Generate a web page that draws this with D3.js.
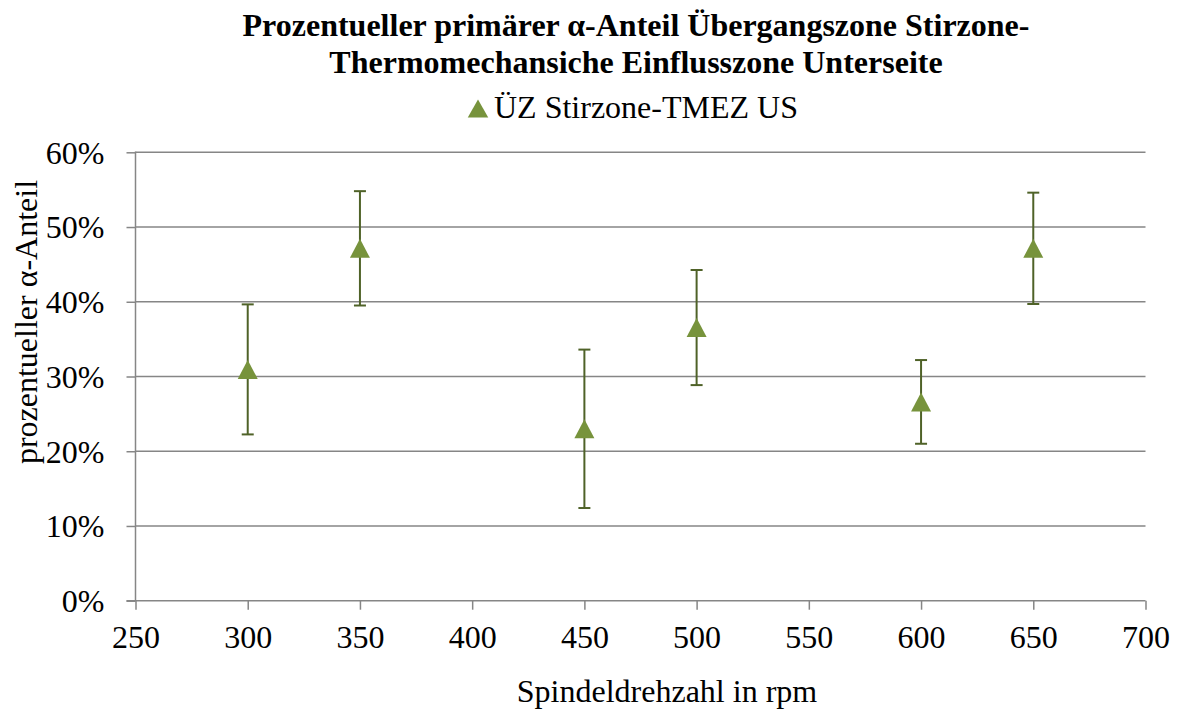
<!DOCTYPE html>
<html>
<head>
<meta charset="utf-8">
<script src="https://cdn.jsdelivr.net/npm/d3@7"></script>
<style>
  html, body { margin: 0; padding: 0; background: #fff; }
  svg { display: block; }
</style>
</head>
<body>
<svg id="chart" width="1177" height="718"></svg>
<script>
// Spindle speed (rpm)
const speeds = [300, 350, 450, 500, 600, 650];
// Primary alpha fraction (%)
const alphaShare = [30.95, 47.15, 23.0, 36.55, 26.6, 47.15];
// Standard deviation (%), shown as symmetric error bars
const alphaError = [8.7, 7.65, 10.6, 7.7, 5.6, 7.45];

const xTicks = [250, 300, 350, 400, 450, 500, 550, 600, 650, 700];
const yTicks = [0, 10, 20, 30, 40, 50, 60];

const seriesName = "ÜZ Stirzone-TMEZ US";
const titleLines = [
  "Prozentueller primärer α-Anteil Übergangszone Stirzone-",
  "Thermomechansiche Einflusszone Unterseite"
];
const xLabel = "Spindeldrehzahl in rpm";
const yLabel = "prozentueller α-Anteil";

const FONT = "'Liberation Serif', 'Times New Roman', serif";

const svg = d3.select("#chart");
const plot = { left: 135.5, right: 1145.5, top: 152.3, bottom: 600.7 };

const x = d3.scaleLinear().domain([250, 700]).range([plot.left, plot.right]);
const y = d3.scaleLinear().domain([0, 60]).range([plot.bottom, plot.top]);

const gridColor = "#868686";
const markerColor = "#77933C";
const errColor = "#4F6228";

const styleText = sel => sel
  .style("font-family", FONT)
  .style("font-size", "32px")
  .attr("fill", "#000");

// Horizontal gridlines
svg.append("g")
  .selectAll("line")
  .data(yTicks.filter(d => d > 0))
  .join("line")
  .attr("x1", plot.left).attr("x2", plot.right)
  .attr("y1", d => y(d)).attr("y2", d => y(d))
  .attr("stroke", gridColor).attr("stroke-width", 1.5);

// Y axis
const yAxis = d3.axisLeft(y).tickValues(yTicks).tickSize(9).tickFormat(d => d + "%");
const gy = svg.append("g").attr("transform", `translate(${plot.left},0)`).call(yAxis);
gy.select(".domain").attr("stroke", gridColor).attr("stroke-width", 1.5).attr("d", `M0,${plot.top - 0.7}V${plot.bottom}`);
gy.selectAll(".tick line").attr("stroke", gridColor).attr("stroke-width", 1.5);
gy.selectAll(".tick text")
  .attr("x", -31)
  .attr("dy", "0.34em")
  .call(styleText);

// X axis
const xAxis = d3.axisBottom(x).tickValues(xTicks).tickSize(9).tickFormat(d3.format("d"));
const gx = svg.append("g").attr("transform", `translate(0,${plot.bottom})`).call(xAxis);
gx.select(".domain").attr("stroke", gridColor).attr("stroke-width", 1.5).attr("d", `M${plot.left - 9},0H${plot.right}`);
gx.selectAll(".tick line").attr("stroke", gridColor).attr("stroke-width", 1.5);
gx.selectAll(".tick text")
  .attr("y", 47)
  .attr("dy", 0)
  .call(styleText);

const points = speeds.map((s, i) => ({ s, v: alphaShare[i], e: alphaError[i] }));

// Error bars
const eb = svg.append("g").selectAll("g").data(points).join("g");
eb.append("line")
  .attr("x1", d => x(d.s)).attr("x2", d => x(d.s))
  .attr("y1", d => y(d.v + d.e)).attr("y2", d => y(d.v - d.e))
  .attr("stroke", errColor).attr("stroke-width", 2);
[1, -1].forEach(sign => {
  eb.append("line")
    .attr("x1", d => x(d.s) - 6).attr("x2", d => x(d.s) + 6)
    .attr("y1", d => y(d.v + sign * d.e)).attr("y2", d => y(d.v + sign * d.e))
    .attr("stroke", errColor).attr("stroke-width", 2);
});

// Triangle markers
const tri = (cx, cy, w, h) => `M${cx},${cy - h / 2}L${cx + w / 2},${cy + h / 2}L${cx - w / 2},${cy + h / 2}Z`;
svg.append("g").selectAll("path").data(points).join("path")
  .attr("d", d => tri(x(d.s), y(d.v), 20, 19))
  .attr("fill", markerColor);

// Title
svg.append("g").selectAll("text").data(titleLines).join("text")
  .attr("x", 636).attr("y", (d, i) => 36 + i * 36.7)
  .attr("text-anchor", "middle")
  .call(styleText)
  .style("font-weight", "bold")
  .text(d => d);

// Legend
svg.append("path").attr("d", tri(478, 108.5, 20.5, 18)).attr("fill", markerColor);
svg.append("text").attr("x", 494).attr("y", 117.5)
  .call(styleText).text(seriesName);

// Axis titles
svg.append("text").attr("x", 667).attr("y", 702)
  .attr("text-anchor", "middle").call(styleText).text(xLabel);
svg.append("text")
  .attr("transform", "translate(37,322) rotate(-90)")
  .attr("text-anchor", "middle").call(styleText).text(yLabel);
</script>
</body>
</html>
